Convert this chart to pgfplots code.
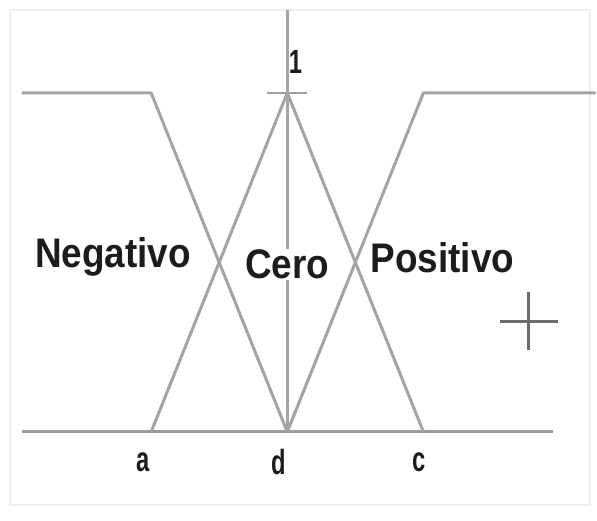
\documentclass[border=0pt]{standalone}
\usepackage{pgfplots}
\pgfplotsset{compat=1.18}
\usepackage{fontspec}
\setmainfont{Liberation Sans}
\usepackage{graphicx}
\definecolor{curve}{HTML}{A4A4A4}
\definecolor{axisgray}{HTML}{9C9C9C}
\definecolor{ink}{HTML}{1C1C1C}
\definecolor{frame}{HTML}{EEEEEE}

\begin{document}
\begin{tikzpicture}
\begin{axis}[
  width=597pt, height=522pt, scale only axis,
  xmin=-2.11, xmax=2.264, ymin=-0.262, ymax=1.274,
  hide axis, clip=false,
]
  % background and faint frame
  \fill[white] (rel axis cs:0,0) rectangle (rel axis cs:1,1);
  \draw[frame, line width=2pt] (rel axis cs:0.016,0.03) rectangle (rel axis cs:0.99,0.98);

  % universe line and vertical membership axis
  \addplot[axisgray, line width=3pt] coordinates {(-1.95,0) (1.95,0)};
  \addplot[curve, line width=3pt] coordinates {(0,0) (0,1.244)};
  \addplot[axisgray, line width=2.5pt] coordinates {(-0.146,1) (0.146,1)};

  % membership functions
  \addplot[curve, line width=3pt, line join=round] coordinates {(-1.95,1) (-1,1) (0,0)};
  \addplot[curve, line width=3pt, line join=round] coordinates {(-1,0) (0,1) (1,0)};
  \addplot[curve, line width=3pt, line join=round] coordinates {(0,0) (1,1) (2.264,1)};

  % cursor cross
  \addplot[gray!85!black, line width=3pt, mark=+, mark size=29pt, only marks] coordinates {(1.773,0.326)};

  % labels
  \node[ink, font=\fontsize{28}{30}\selectfont\bfseries] at (axis cs:0.06,1.09) {\scalebox{0.85}[1.2]{1}};
  \node[ink, font=\fontsize{28}{30}\selectfont\bfseries] at (axis cs:-1.06,-0.09) {\scalebox{0.85}[1.25]{a}};
  \node[ink, font=\fontsize{28}{30}\selectfont\bfseries] at (axis cs:-0.06,-0.09) {\scalebox{0.85}[1.25]{d}};
  \node[ink, font=\fontsize{28}{30}\selectfont\bfseries] at (axis cs:0.97,-0.09) {\scalebox{0.85}[1.25]{c}};

  \node[ink, font=\fontsize{37}{40}\selectfont\bfseries] at (axis cs:-1.28,0.515) {\scalebox{1}[1.12]{Negativo}};
  \node[ink, fill=white, inner sep=1pt, font=\fontsize{37}{40}\selectfont\bfseries] at (axis cs:0,0.494) {\scalebox{1}[1.12]{Cero}};
  \node[ink, font=\fontsize{37}{40}\selectfont\bfseries] at (axis cs:1.14,0.515) {\scalebox{1}[1.12]{Positivo}};
\end{axis}
\end{tikzpicture}
\end{document}
